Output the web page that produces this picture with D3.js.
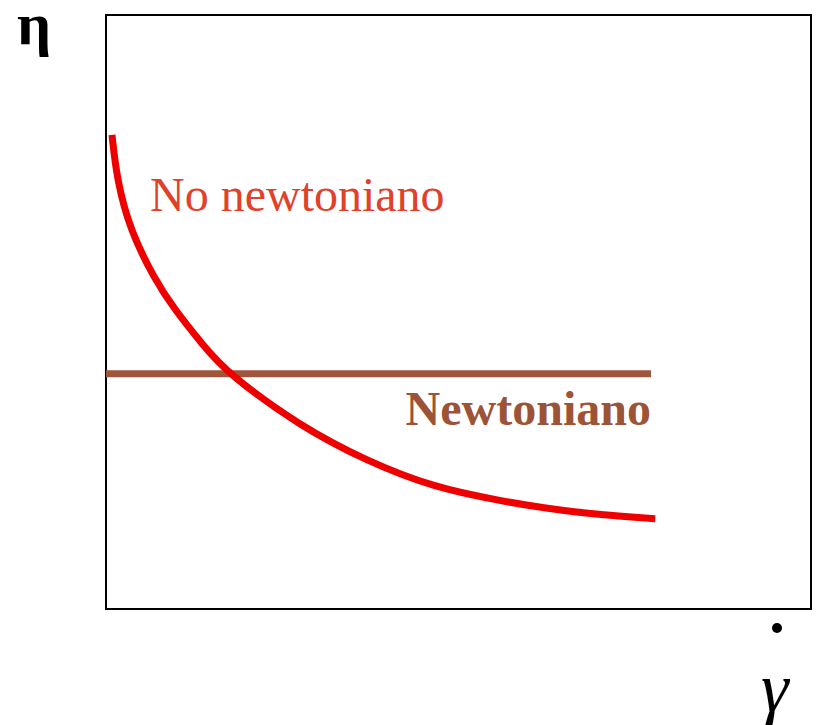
<!DOCTYPE html>
<html>
<head>
<meta charset="utf-8">
<script src="https://cdn.jsdelivr.net/npm/d3@7"></script>
<style>
  body { margin: 0; background: #fff; }
</style>
</head>
<body>
<svg id="chart" width="821" height="725"></svg>
<script>
// curve of the non newtonian fluid (shear rate, viscosity), arbitrary units 0..100
var nonNewtX = [0.85, 1.56, 3.4, 6.95, 9.5, 13.76, 17.3, 27.5, 37.0, 46.4, 55.9, 66.2, 77.9];
var nonNewtY = [79.8, 72.2, 63.8, 55.4, 50.8, 44.4, 39.6, 30.8, 24.9, 20.5, 18.2, 16.2, 15.2];
// newtonian: constant viscosity
var newtX = [0, 77.3];
var newtY = [39.6, 39.6];
var labels = ["No newtoniano", "Newtoniano"];

var svg = d3.select("#chart");

var m = { left: 106, right: 811, top: 15, bottom: 609 };

var x = d3.scaleLinear().domain([0, 100]).range([m.left, m.right]);
var y = d3.scaleLinear().domain([0, 100]).range([m.bottom, m.top]);

// frame
svg.append("rect")
    .attr("x", m.left)
    .attr("y", m.top)
    .attr("width", m.right - m.left)
    .attr("height", m.bottom - m.top)
    .attr("fill", "none")
    .attr("stroke", "#000")
    .attr("stroke-width", 2);

var line = d3.line()
    .x(function (d) { return x(d[0]); })
    .y(function (d) { return y(d[1]); });

// newtonian line
svg.append("path")
    .datum(d3.zip(newtX, newtY))
    .attr("d", line)
    .attr("fill", "none")
    .attr("stroke", "#9e553b")
    .attr("stroke-width", 7);

// non newtonian curve
svg.append("path")
    .datum(d3.zip(nonNewtX, nonNewtY))
    .attr("d", line.curve(d3.curveBasis))
    .attr("fill", "none")
    .attr("stroke", "#ee0000")
    .attr("stroke-width", 7);

// labels
svg.append("text")
    .attr("x", 150)
    .attr("y", 211)
    .style("font-family", "'Liberation Serif', serif")
    .style("font-size", "48px")
    .attr("fill", "#e0412a")
    .text(labels[0]);

svg.append("text")
    .attr("x", x(newtX[1]))
    .attr("y", 425)
    .attr("text-anchor", "end")
    .style("font-family", "'Liberation Serif', serif")
    .style("font-size", "48px")
    .style("font-weight", "bold")
    .attr("fill", "#9c5336")
    .text(labels[1]);

// axis symbols
svg.append("text")
    .attr("x", 17)
    .attr("y", 44)
    .style("font-family", "'Liberation Serif', serif")
    .style("font-size", "60px")
    .style("font-weight", "bold")
    .attr("fill", "#000")
    .text("η");

svg.append("circle")
    .attr("cx", 777)
    .attr("cy", 628)
    .attr("r", 5)
    .attr("fill", "#000");

svg.append("text")
    .attr("x", 761)
    .attr("y", 711)
    .style("font-family", "'Liberation Serif', serif")
    .style("font-size", "70px")
    .style("font-style", "italic")
    .attr("fill", "#000")
    .text("γ");
</script>
</body>
</html>
